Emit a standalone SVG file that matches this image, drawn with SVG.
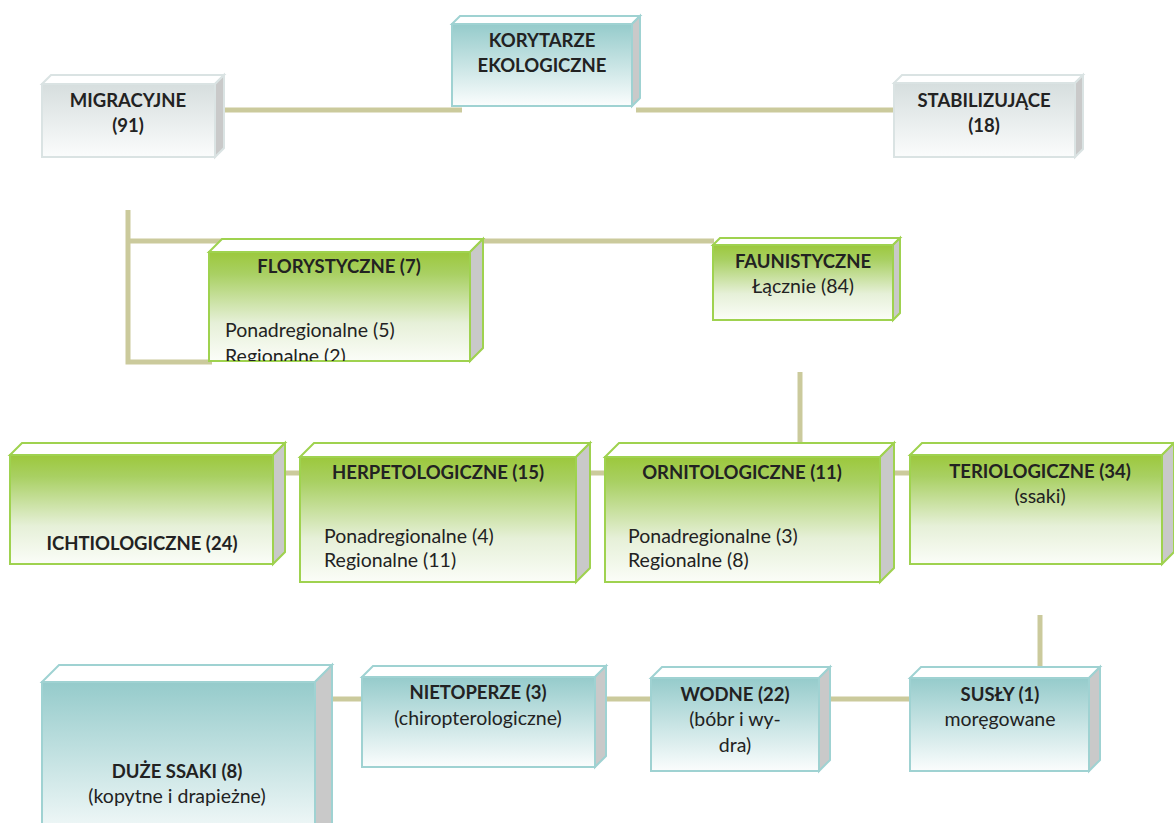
<svg xmlns="http://www.w3.org/2000/svg" width="1174" height="823" viewBox="0 0 1174 823">
<defs>
<linearGradient id="gGray" x1="0" y1="0" x2="0" y2="1">
<stop offset="0" stop-color="#d6dede"/><stop offset="1" stop-color="#fbfcfc"/>
</linearGradient>
<linearGradient id="gTeal" x1="0" y1="0" x2="0" y2="1">
<stop offset="0" stop-color="#95cbcb"/><stop offset="1" stop-color="#fbfdfd"/>
</linearGradient>
<linearGradient id="gGreen" x1="0" y1="0" x2="0" y2="1">
<stop offset="0" stop-color="#9cc83c"/><stop offset="0.2" stop-color="#a9d063"/><stop offset="0.65" stop-color="#e6f0d8"/><stop offset="1" stop-color="#fbfdf8"/>
</linearGradient>
<clipPath id="clipFlory"><rect x="209" y="252" width="261" height="109"/></clipPath>
</defs>
<style>
.ln{stroke:#cbca9c;stroke-width:5;fill:none}
.top{fill:#ffffff}
.side{fill:#c9c9c9}
.gray .top,.gray .side,.gray .front{stroke:#dae3e3;stroke-width:2}
.gray .front{fill:url(#gGray)}
.teal .top,.teal .side,.teal .front{stroke:#9fd2d2;stroke-width:2}
.teal .front{fill:url(#gTeal)}
.green .top,.green .side,.green .front{stroke:#9fd24f;stroke-width:2}
.green .front{fill:url(#gGreen)}
text{font-family:Lato,"Liberation Sans",sans-serif;font-size:19.5px;fill:#222222}
.b{font-weight:bold;text-anchor:middle;font-size:18.5px}
.c{text-anchor:middle}
</style>

<g id="connectors">
<line class="ln" x1="220" y1="110" x2="462" y2="110"/>
<line class="ln" x1="636" y1="110" x2="896" y2="110"/>
<polyline class="ln" points="128,210 128,362 212,362"/>
<line class="ln" x1="128" y1="241" x2="714" y2="241"/>
<line class="ln" x1="800" y1="372" x2="800" y2="444"/>
<line class="ln" x1="284" y1="473" x2="912" y2="473"/>
<line class="ln" x1="1040" y1="615" x2="1040" y2="670"/>
<line class="ln" x1="330" y1="699" x2="912" y2="699"/>
</g>

<g id="korytarze" class="teal">
<polygon class="top" points="452,24 460,16 640,16 632,24"/>
<polygon class="side" points="632,24 640,16 640,98 632,106"/>
<rect class="front" x="452" y="24" width="180" height="82"/>
<text class="b" x="542" y="47">KORYTARZE</text>
<text class="b" x="542" y="72">EKOLOGICZNE</text>
</g>

<g id="migracyjne" class="gray">
<polygon class="top" points="42,84 51,75 224,75 215,84"/>
<polygon class="side" points="215,84 224,75 224,148 215,157"/>
<rect class="front" x="42" y="84" width="173" height="73"/>
<text class="b" x="128" y="107">MIGRACYJNE</text>
<text class="b" x="128" y="132">(91)</text>
</g>

<g id="stabilizujace" class="gray">
<polygon class="top" points="894,83 902,75 1083,75 1075,83"/>
<polygon class="side" points="1075,83 1083,75 1083,149 1075,157"/>
<rect class="front" x="894" y="83" width="181" height="74"/>
<text class="b" x="984" y="107">STABILIZUJĄCE</text>
<text class="b" x="984" y="132">(18)</text>
</g>

<g id="florystyczne" class="green">
<polygon class="top" points="209,252 222,239 483,239 470,252"/>
<polygon class="side" points="470,252 483,239 483,348 470,361"/>
<rect class="front" x="209" y="252" width="261" height="109"/>
<text class="b" x="339" y="273">FLORYSTYCZNE (7)</text>
<g clip-path="url(#clipFlory)">
<text x="225" y="337">Ponadregionalne (5)</text>
<text x="225" y="363">Regionalne (2)</text>
</g>
</g>

<g id="faunistyczne" class="green">
<polygon class="top" points="713,245 720,238 900,238 893,245"/>
<polygon class="side" points="893,245 900,238 900,313 893,320"/>
<rect class="front" x="713" y="245" width="180" height="75"/>
<text class="b" x="803" y="268">FAUNISTYCZNE</text>
<text class="c" x="803" y="293">Łącznie (84)</text>
</g>

<g id="ichtiologiczne" class="green">
<polygon class="top" points="10,455 22,443 285,443 273,455"/>
<polygon class="side" points="273,455 285,443 285,552 273,564"/>
<rect class="front" x="10" y="455" width="263" height="109"/>
<text class="b" x="142" y="550">ICHTIOLOGICZNE (24)</text>
</g>

<g id="herpetologiczne" class="green">
<polygon class="top" points="300,457 314,443 590,443 576,457"/>
<polygon class="side" points="576,457 590,443 590,568 576,582"/>
<rect class="front" x="300" y="457" width="276" height="125"/>
<text class="b" x="438" y="479">HERPETOLOGICZNE (15)</text>
<text x="324" y="543">Ponadregionalne (4)</text>
<text x="324" y="567">Regionalne (11)</text>
</g>

<g id="ornitologiczne" class="green">
<polygon class="top" points="605,457 619,443 894,443 880,457"/>
<polygon class="side" points="880,457 894,443 894,568 880,582"/>
<rect class="front" x="605" y="457" width="275" height="125"/>
<text class="b" x="742" y="479">ORNITOLOGICZNE (11)</text>
<text x="628" y="543">Ponadregionalne (3)</text>
<text x="628" y="567">Regionalne (8)</text>
</g>

<g id="teriologiczne" class="green">
<polygon class="top" points="910,455 922,443 1174,443 1162,455"/>
<polygon class="side" points="1162,455 1174,443 1174,552 1162,564"/>
<rect class="front" x="910" y="455" width="252" height="109"/>
<text class="b" x="1040" y="478">TERIOLOGICZNE (34)</text>
<text class="c" x="1040" y="503">(ssaki)</text>
</g>

<g id="duze-ssaki" class="teal">
<polygon class="top" points="42,682 59,665 332,665 315,682"/>
<polygon class="side" points="315,682 332,665 332,830 315,847"/>
<rect class="front" x="42" y="682" width="273" height="165"/>
<text class="b" x="177" y="778">DUŻE SSAKI (8)</text>
<text class="c" x="177" y="803">(kopytne i drapieżne)</text>
</g>

<g id="nietoperze" class="teal">
<polygon class="top" points="362,677 373,666 606,666 595,677"/>
<polygon class="side" points="595,677 606,666 606,756 595,767"/>
<rect class="front" x="362" y="677" width="233" height="90"/>
<text class="b" x="478" y="699">NIETOPERZE (3)</text>
<text class="c" x="478" y="725">(chiropterologiczne)</text>
</g>

<g id="wodne" class="teal">
<polygon class="top" points="651,678 662,667 830,667 819,678"/>
<polygon class="side" points="819,678 830,667 830,760 819,771"/>
<rect class="front" x="651" y="678" width="168" height="93"/>
<text class="b" x="735" y="701">WODNE (22)</text>
<text class="c" x="735" y="726">(bóbr i wy-</text>
<text class="c" x="735" y="752">dra)</text>
</g>

<g id="susly" class="teal">
<polygon class="top" points="910,678 921,667 1100,667 1089,678"/>
<polygon class="side" points="1089,678 1100,667 1100,760 1089,771"/>
<rect class="front" x="910" y="678" width="179" height="93"/>
<text class="b" x="1000" y="701">SUSŁY (1)</text>
<text class="c" x="1000" y="726">moręgowane</text>
</g>
</svg>
